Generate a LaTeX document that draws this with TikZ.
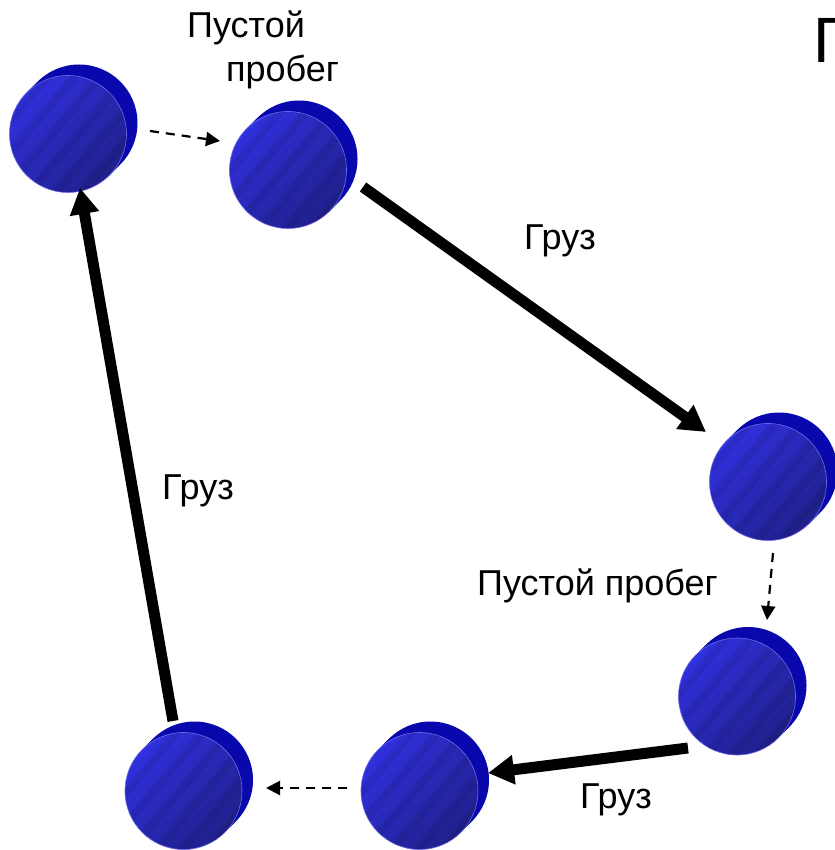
\documentclass[tikz,border=0pt]{standalone}
\usepackage{fontspec}
\setmainfont{Liberation Sans}
\usetikzlibrary{arrows.meta,shadows,patterns.meta}
\definecolor{frontA}{RGB}{48,48,222}
\definecolor{frontB}{RGB}{32,32,140}
\definecolor{backC}{RGB}{8,8,172}
\definecolor{rimC}{RGB}{110,110,235}
\begin{document}
\begin{tikzpicture}[x=1pt,y=-1pt,
  disk/.style={circle, minimum size=117pt, inner sep=0pt, draw=rimC, line width=0.6pt,
    top color=frontA, bottom color=frontB, shading angle=45,
    general shadow={shadow xshift=11pt, shadow yshift=11pt, fill=backC},
    general shadow={shadow xshift=8pt, shadow yshift=8pt, fill=backC},
    general shadow={shadow xshift=5pt, shadow yshift=5pt, fill=backC},
    general shadow={shadow xshift=2.5pt, shadow yshift=2.5pt, fill=backC},
    postaction={pattern={Lines[angle=50,distance=20pt,line width=8pt]}, pattern color=black, opacity=0.08}},
  lbl/.style={font=\fontsize{36}{44}\selectfont, inner sep=0pt, anchor=base west},
  heavy/.style={line width=11pt, -{Triangle[length=26pt,width=28pt]}},
  empty/.style={line width=2.2pt, dash pattern=on 9pt off 7pt, -{Triangle[length=14pt,width=14pt]}}]
\useasboundingbox (0,0) rectangle (834,850);
\fill[white] (0,0) rectangle (834,850);
% disks
\node[disk] (n1) at (68,134) {};
\node[disk] (n2) at (288,170) {};
\node[disk] (n3) at (768,482) {};
\node[disk] (n4) at (737,696.5) {};
\node[disk] (n5) at (419.5,791) {};
\node[disk] (n6) at (183.5,791) {};
% connectors
\draw[empty] ([shift={(82,-3)}]n1.center) -- ([shift={(-68,-29)}]n2.center);
\draw[heavy] ([shift={(75,17)}]n2.center) -- ([shift={(-62,-50)}]n3.center);
\draw[empty] ([shift={(5,71)}]n3.center) -- ([shift={(30,-76.5)}]n4.center);
\draw[heavy] ([shift={(-49,51.5)}]n4.center) -- ([shift={(68.5,-18)}]n5.center);
\draw[empty] ([shift={(-72.5,-3)}]n5.center) -- ([shift={(82.5,-3)}]n6.center);
\draw[heavy] ([shift={(-10.5,-70)}]n6.center) -- ([shift={(12,54)}]n1.center);
% labels
\node[lbl] (t1) at (187,38) {Пустой};
\node[lbl] (t2) at (226,82) {пробег};
\node[lbl] (t3) at (524,249) {Груз};
\node[lbl] (t4) at (162,499) {Груз};
\node[lbl] (t5) at (477,595) {Пустой пробег};
\node[lbl] (t6) at (580,808) {Груз};
\node[font=\fontsize{64}{70}\selectfont, inner sep=0pt, anchor=base west] (title) at (813,63) {Г};
\end{tikzpicture}
\end{document}
